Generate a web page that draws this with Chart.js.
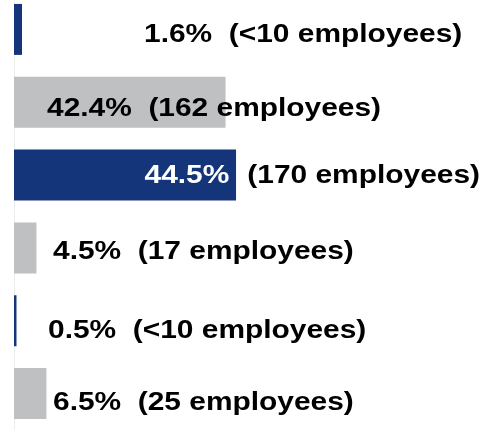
<!DOCTYPE html>
<html>
<head>
<meta charset="utf-8">
<script src="https://cdn.jsdelivr.net/npm/chart.js@4.4.1/dist/chart.umd.min.js"></script>
<style>
  html, body { margin: 0; padding: 0; background: #ffffff; overflow: hidden; }
  #wrap { position: absolute; left: 0; top: -7px; width: 488px; height: 437px; }
</style>
</head>
<body>
<div id="wrap"><canvas id="chart"></canvas></div>
<script>
// Share of staff per group, and head counts shown beside each bar
const shares = [1.6, 42.4, 44.5, 4.5, 0.5, 6.5];
const employeeCounts = ['<10', '162', '170', '17', '<10', '25'];
const categories = employeeCounts.map((c, i) => 'Group ' + (i + 1));

const BLUE = '#15357a';
const GREY = '#bfc0c2';
const barColors = shares.map((_, i) => (i % 2 === 0 ? BLUE : GREY));

// Where each value label sits: left edge (px from the plot's left) and baseline shift from bar centre.
// A null left edge means the percentage is tucked inside the bar end.
const labelLeft = [130, 33, null, 39, 34, 39];
const labelShift = [13, 13.5, 8, 11.5, 17, 16.6];
const TEXT_STRETCH = 1.15;

const valueLabels = {
  id: 'valueLabels',
  beforeDatasetsDraw(chart) {
    const { ctx, chartArea } = chart;
    ctx.save();
    ctx.strokeStyle = '#ededed';
    ctx.lineWidth = 1;
    ctx.beginPath();
    ctx.moveTo(chartArea.left + 0.5, 7);
    ctx.lineTo(chartArea.left + 0.5, chartArea.bottom);
    ctx.stroke();
    ctx.restore();
  },
  afterDatasetsDraw(chart) {
    const { ctx, chartArea } = chart;
    const meta = chart.getDatasetMeta(0);
    ctx.save();
    ctx.font = 'bold 26px "Liberation Sans", Arial, sans-serif';
    ctx.textBaseline = 'alphabetic';
    const draw = (text, x, y, color) => {
      ctx.save();
      ctx.translate(x, y);
      ctx.scale(TEXT_STRETCH, 1);
      ctx.fillStyle = color;
      ctx.fillText(text, 0, 0);
      ctx.restore();
    };
    const width = (text) => ctx.measureText(text).width * TEXT_STRETCH;
    meta.data.forEach((bar, i) => {
      const pct = shares[i].toFixed(1) + '%';
      const rest = '(' + employeeCounts[i] + ' employees)';
      const y = bar.y + labelShift[i];
      if (labelLeft[i] === null) {
        draw(pct, bar.x - 6.7 - width(pct), y, '#ffffff');
        draw(rest, bar.x + 11.3, y, '#000000');
      } else {
        draw(pct + '\u00a0\u00a0' + rest, chartArea.left + labelLeft[i], y, '#000000');
      }
    });
    ctx.restore();
  }
};

new Chart(document.getElementById('chart'), {
  type: 'bar',
  data: {
    labels: categories,
    datasets: [{
      data: shares,
      backgroundColor: barColors,
      borderWidth: 0,
      categoryPercentage: 1,
      barPercentage: 0.7
    }]
  },
  options: {
    indexAxis: 'y',
    responsive: true,
    maintainAspectRatio: false,
    animation: false,
    layout: { padding: { left: 14, right: 0, top: 0, bottom: 0 } },
    plugins: { legend: { display: false }, tooltip: { enabled: false } },
    scales: {
      x: { display: false, min: 0, max: 95 },
      y: { display: false }
    }
  },
  plugins: [valueLabels]
});
</script>
</body>
</html>
